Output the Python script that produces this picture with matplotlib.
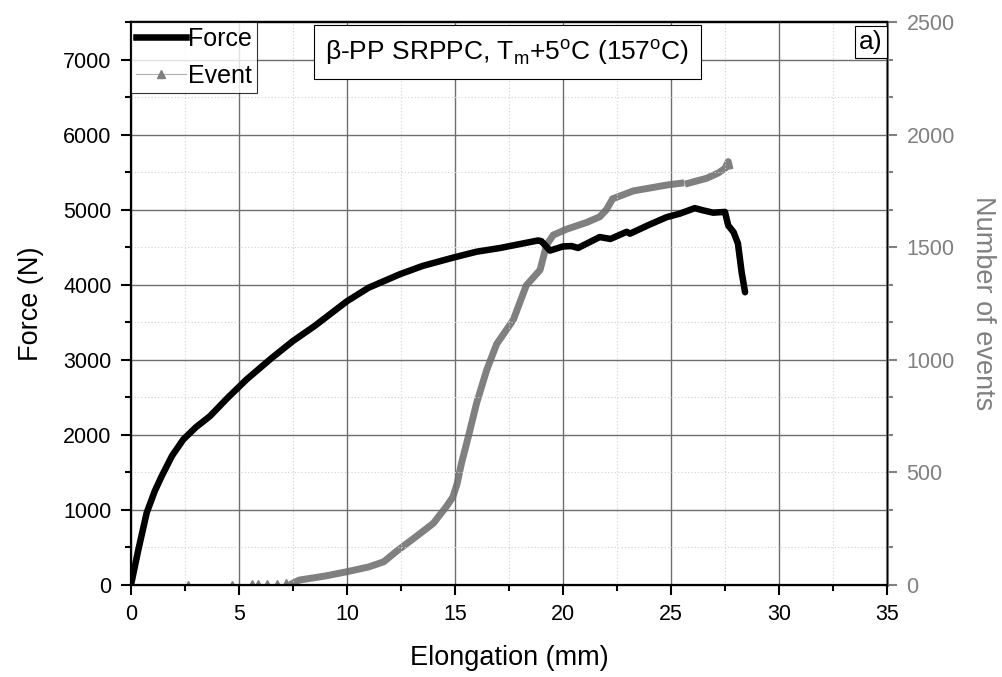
import matplotlib.pyplot as plt
import numpy as np
from matplotlib.lines import Line2D
from matplotlib.ticker import MultipleLocator

plt.rcParams['font.family'] = ['Liberation Sans', 'DejaVu Sans']
plt.rcParams['mathtext.fontset'] = 'custom'
plt.rcParams['mathtext.rm'] = 'Liberation Sans'

# --- data ---
force_mm = [0, 0.35, 0.73, 1.1, 1.42, 1.9, 2.42, 3.0, 3.66, 4.5, 5.36, 6.5, 7.5,
            8.5, 10.0, 11.0, 12.45, 13.5, 14.9, 16.0, 17.1, 18.85, 19.0, 19.4,
            20.0, 20.4, 20.7, 21.7, 22.2, 22.95, 23.1, 24.0, 24.8, 25.4, 26.1,
            26.5, 26.95, 27.5, 27.65, 27.9, 28.1, 28.27, 28.43]
force_N = [0, 480, 963, 1250, 1448, 1720, 1938, 2100, 2250, 2500, 2740, 3020, 3250,
           3450, 3780, 3960, 4140, 4250, 4360, 4440, 4490, 4590, 4580, 4455,
           4510, 4515, 4490, 4635, 4610, 4705, 4680, 4800, 4900, 4946, 5020,
           4990, 4960, 4970, 4790, 4700, 4550, 4170, 3900]

event_mm = [7.5, 7.8, 9.0, 10.0, 11.0, 11.7, 12.3, 13.2, 14.0, 14.6, 14.9, 15.1,
            15.3, 15.62, 16.0, 16.47, 16.93, 17.7, 18.3, 18.94, 19.24, 19.55, 20.17,
            21.1, 21.7, 22.0, 22.3, 23.26, 24.8, 25.45, np.nan, 25.8, 26.65, 27.2,
            27.5, 27.65, 27.7]
event_n = [8, 22, 40, 59, 80, 103, 150, 215, 274, 348, 390, 450,
           540, 659, 807, 955, 1070, 1177, 1330, 1399, 1510, 1554, 1580,
           1610, 1635, 1665, 1715, 1750, 1776, 1784, np.nan, 1784, 1806, 1830,
           1850, 1880, 1860]
early_mm = [2.65, 4.66, 5.59, 5.9, 6.28, 6.74, 7.2]
early_n = [0, 0, 5, 5, 5, 5, 8]

GRAY = '#808080'

fig = plt.figure(figsize=(10.02, 6.77), dpi=100)
ax = fig.add_axes([0.1307, 0.1359, 0.7545, 0.8316])
ax2 = ax.twinx()

ax.set_zorder(2)
ax.patch.set_visible(False)

# force curve
ax.plot(force_mm, force_N, color='black', lw=4.7, solid_capstyle='round',
        solid_joinstyle='round', zorder=5)

# events curve (right axis)
ax2.plot(event_mm, event_n, color=GRAY, lw=5, solid_joinstyle='round')
ax2.plot(early_mm, early_n, ls='none', marker='^', ms=6, color=GRAY, mec=GRAY)

ax.set_xlim(0, 35)
ax.set_ylim(0, 7500)
ax2.set_ylim(0, 2500)

ax.xaxis.set_major_locator(MultipleLocator(5))
ax.xaxis.set_minor_locator(MultipleLocator(2.5))
ax.yaxis.set_major_locator(MultipleLocator(1000))
ax.yaxis.set_minor_locator(MultipleLocator(500))
ax2.yaxis.set_major_locator(MultipleLocator(500))
ax2.yaxis.set_minor_locator(MultipleLocator(500 / 3))

ax.set_yticks(np.arange(0, 7001, 1000))

ax.grid(which='major', color='#6e6e6e', lw=1.0, ls='-')
ax.grid(which='minor', color='#d0d0d0', lw=0.8, ls=(0, (1, 2)))

ax.tick_params(which='major', direction='out', length=7, width=1.5,
               labelsize=15.5, pad=7)
ax.tick_params(which='minor', direction='out', length=4, width=1.5)
ax2.tick_params(which='major', direction='out', length=7, width=1.5,
                labelsize=15.5, colors=GRAY, pad=7)
ax2.tick_params(which='minor', direction='out', length=4, width=1.5, colors=GRAY)

for s in ['left', 'bottom', 'top']:
    ax.spines[s].set_linewidth(1.6)
ax2.spines['right'].set_color(GRAY)
ax2.spines['right'].set_linewidth(2.2)
ax2.spines['left'].set_visible(False)
ax2.spines['top'].set_linewidth(1.6)

ax.set_xlabel('Elongation (mm)', fontsize=19.5, labelpad=14)
ax.set_ylabel('Force (N)', fontsize=19.5, labelpad=14)
ax2.set_ylabel('Number of events', fontsize=19.5, color=GRAY, rotation=270,
               labelpad=30)

# legend
handles = [Line2D([], [], color='black', lw=4.7),
           Line2D([], [], color='#b0b0b0', lw=0.8, marker='^', ms=6,
                  mfc=GRAY, mec=GRAY)]
leg = ax.legend(handles, ['Force', 'Event'], loc='upper left', fontsize=18,
                frameon=True, fancybox=False, edgecolor='black',
                borderpad=0.2, labelspacing=0.5, handlelength=2.0,
                handletextpad=0.1, borderaxespad=0.0)
leg.get_frame().set_linewidth(0.8)
leg.set_zorder(10)

ax.text(0.498, 0.947, 'β-PP SRPPC, T$_\\mathregular{m}$+5$^\\mathregular{o}$C (157$^\\mathregular{o}$C)',
        transform=ax.transAxes, fontsize=19, ha='center', va='center', zorder=10,
        bbox=dict(boxstyle='square,pad=0.45', fc='white', ec='black', lw=0.8))
ax.text(0.979, 0.965, 'a)', transform=ax.transAxes, fontsize=19, ha='center',
        va='center', zorder=10,
        bbox=dict(boxstyle='square,pad=0.15', fc='white', ec='black', lw=0.8))

fig.savefig('out.png', dpi=100)
